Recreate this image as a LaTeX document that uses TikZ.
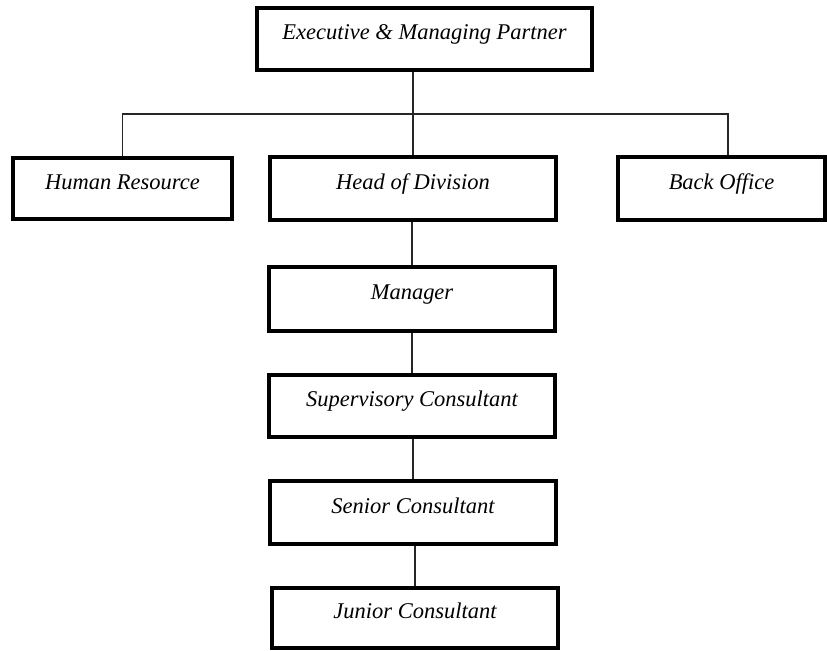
\documentclass[tikz,border=0pt]{standalone}
\usepackage{fontspec}
\setmainfont{Liberation Serif}
\usepackage{tikz}
\tikzstyle{post}=[fill=white, draw=black, line width=2pt, shape=rectangle, font=\fontsize{12.8}{15}\selectfont\itshape, text height=1ex, text depth=0.8ex, inner sep=0pt]
\tikzstyle{link}=[-, draw=black!85, line width=0.8pt]
\pgfdeclarelayer{nodelayer}
\pgfdeclarelayer{edgelayer}
\pgfsetlayers{edgelayer,nodelayer,main}

\begin{document}
\begin{tikzpicture}[x=0.02cm, y=-0.02cm]
	\useasboundingbox (0, 0) rectangle (827, 650);
	\begin{pgfonlayer}{nodelayer}
		\node [style=post, minimum width=6.7cm, minimum height=1.24cm] (0) at (424.5, 39) {Executive \& Managing Partner};
		\node [style=post, minimum width=4.38cm, minimum height=1.22cm] (1) at (122.5, 188.5) {Human Resource};
		\node [style=post, minimum width=5.72cm, minimum height=1.26cm] (2) at (413, 188.5) {Head of Division};
		\node [style=post, minimum width=4.14cm, minimum height=1.26cm] (3) at (721.5, 188.5) {Back Office};
		\node [style=post, minimum width=5.72cm, minimum height=1.28cm] (4) at (412, 299) {Manager};
		\node [style=post, minimum width=5.72cm, minimum height=1.24cm] (5) at (412, 406) {Supervisory Consultant};
		\node [style=post, minimum width=5.72cm, minimum height=1.26cm] (6) at (413, 512.5) {Senior Consultant};
		\node [style=post, minimum width=5.72cm, minimum height=1.2cm] (7) at (415, 618) {Junior Consultant};
		\coordinate (8) at (412, 114);
		\coordinate (9) at (728, 157);
	\end{pgfonlayer}
	\begin{pgfonlayer}{edgelayer}
		\draw [style=link] (2.north) -- (2.north |- 0.south);
		\draw [style=link] (1.north) |- (8) -| (9);
		\draw [style=link] (4.north) -- (4.north |- 2.south);
		\draw [style=link] (5.north) -- (5.north |- 4.south);
		\draw [style=link] (6.north) -- (6.north |- 5.south);
		\draw [style=link] (7.north) -- (7.north |- 6.south);
	\end{pgfonlayer}
\end{tikzpicture}
\end{document}
